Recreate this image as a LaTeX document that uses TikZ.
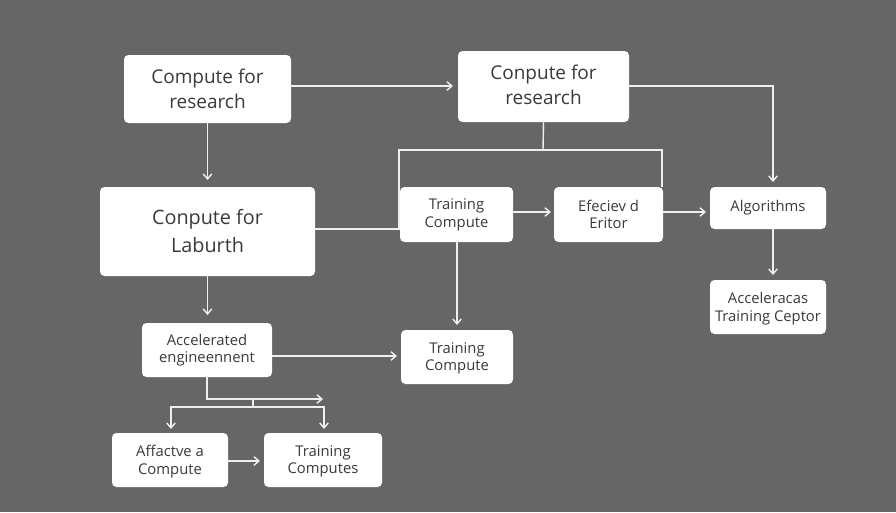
\documentclass[tikz,border=0pt]{standalone}
\usepackage{fontspec}
\setmainfont{Open Sans}
\usetikzlibrary{arrows.meta}
\definecolor{bgc}{HTML}{666666}
\definecolor{inkc}{HTML}{3A3A3A}
\definecolor{linec}{HTML}{EFEFEF}
\tikzset{
  box/.style={fill=white,rounded corners=4.5pt,inner sep=0pt,align=center,text=inkc,anchor=center},
  lbl/.style={inner sep=0pt,align=center,text=inkc,anchor=center},
  bigfont/.style={font=\fontsize{19}{25}\selectfont},
  hugefont/.style={font=\fontsize{19.8}{28}\selectfont},
  smallfont/.style={font=\fontsize{14.8}{17.5}\selectfont},
  link/.style={draw=linec,line width=1.4pt},
  arr/.style={link,-{Straight Barb[length=5pt,width=8.5pt,line width=1.4pt]}},
}
\begin{document}
\begin{tikzpicture}[x=1pt,y=-1pt]
\useasboundingbox (0,0) rectangle (896,512);
\fill[bgc] (0,0) rectangle (896,512);
\node[box,bigfont,minimum width=167pt,minimum height=68pt] (A) at (207.5,89) {Compute for\\research};
\node[box,minimum width=171pt,minimum height=71pt] (B) at (543.5,86.5) {};
\node[lbl,bigfont] (Bt) at ([yshift=2pt]B.center) {Conpute for\\research};
\node[box,hugefont,minimum width=215pt,minimum height=89pt] (C) at (207.5,231.5) {Conpute for\\Laburth};
\node[box,minimum width=113pt,minimum height=55pt] (D) at (456.5,214.5) {};
\node[lbl,smallfont] (Dt) at ([yshift=-0.5pt]D.center) {Training\\Compute};
\node[box,smallfont,minimum width=109pt,minimum height=55pt] (E) at (608.5,214.5) {Efeciev d\\Eritor};
\node[box,smallfont,minimum width=116pt,minimum height=42pt] (F) at (768,208) {Algorithms};
\node[box,minimum width=116pt,minimum height=54pt] (G) at (768,307) {};
\node[lbl,smallfont] (Gt) at ([yshift=-1.5pt]G.center) {Acceleracas\\Training Ceptor};
\node[box,smallfont,minimum width=130pt,minimum height=54pt] (H) at (207,350) {Accelerated\\engineennent};
\node[box,minimum width=112pt,minimum height=54pt] (I) at (457,357) {};
\node[lbl,smallfont] (It) at ([yshift=-1.5pt]I.center) {Training\\Compute};
\node[box,minimum width=116pt,minimum height=54pt] (J) at (170,460) {};
\node[lbl,smallfont] (Jt) at ([yshift=-1.5pt]J.center) {Affactve a\\Compute};
\node[box,minimum width=118pt,minimum height=54pt] (K) at (323,460) {};
\node[lbl,smallfont] (Kt) at ([yshift=-1.5pt]K.center) {Training\\Computes};
% junctions
\coordinate (busM) at (543,150);
\coordinate (busL) at (399,150);
\coordinate (busR) at (662,150);
\coordinate (cR) at (399,229);
\coordinate (tR) at (773,86);
\coordinate (hT) at (207,399);
\coordinate (hE) at (323,399);
\coordinate (stub) at (253,399);
\coordinate (stubB) at (253,407);
\coordinate (lbL) at (171,407);
\coordinate (lbR) at (324,407);
% connectors
\draw[arr] (A.east|-0,86) -- (453,86);
\draw[arr] (A.south) -- (207.5,180);
\draw[arr] (B.east|-0,86) -- (tR) -- (773,182);
\draw[link] (B.south) -- (busM);
\draw[link] (C.east|-0,229) -- (cR) -- (busL) -- (busR) -- (busR|-E.north);
\draw[arr] (D.east|-0,212) -- (551,212);
\draw[arr] (E.east|-0,212) -- (706,212);
\draw[arr] (773,229) -- (773,275);
\draw[arr] (457,242) -- (457,325);
\draw[arr] (C.south) -- (207.5,315);
\draw[arr] (H.east|-0,356) -- (397,356);
\draw[arr] (207,377) -- (hT) -- (hE);
\draw[link] (stub) -- (stubB);
\draw[arr] (stubB) -- (lbL) -- (171,429);
\draw[arr] (stubB) -- (lbR) -- (324,429);
\draw[arr] (J.east|-0,461) -- (260,461);
\end{tikzpicture}
\end{document}
